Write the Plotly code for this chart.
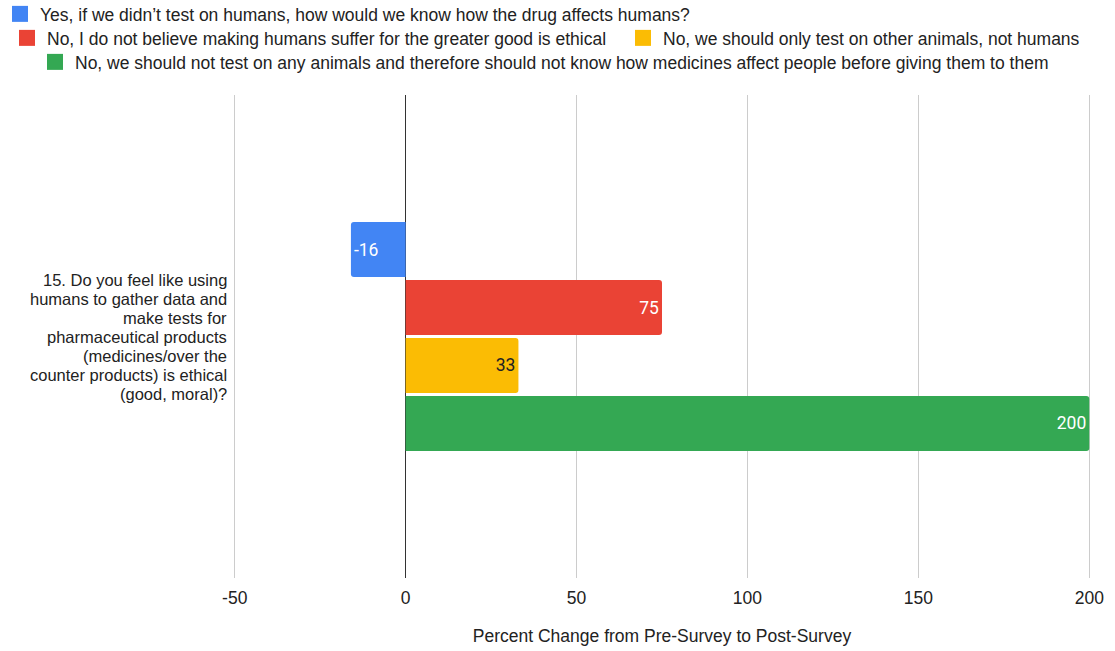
import plotly.graph_objects as go

# Survey question (single category) and the four answer options
question_lines = [
    "15. Do you feel like using",
    "humans to gather data and",
    "make tests for",
    "pharmaceutical products",
    "(medicines/over the",
    "counter products) is ethical",
    "(good, moral)?",
]
category = [" ".join(question_lines)]
answers = [
    "Yes, if we didn’t test on humans, how would we know how the drug affects humans?",
    "No, I do not believe making humans suffer for the greater good is ethical",
    "No, we should only test on other animals, not humans",
    "No, we should not test on any animals and therefore should not know how medicines affect people before giving them to them",
]
pct_change = [-16, 75, 33, 200]
colors = ["#4285F4", "#EA4335", "#FBBC04", "#34A853"]
label_colors = ["#ffffff", "#ffffff", "#202124", "#ffffff"]
x_ticks = [-50, 0, 50, 100, 150, 200]

W, H = 1115, 651
M_L, M_R, M_T, M_B = 233, 24, 95, 73
plot_w = W - M_L - M_R
plot_h = H - M_T - M_B
FONT = "Liberation Sans"
TXT = "#222222"


def px_x(px):
    return (px - M_L) / plot_w


def px_y(py):
    return (H - M_B - py) / plot_h


# one legend per entry so each row can be placed on its own
legend_pos = [(0, 14), (7, 38), (623, 38), (35, 62)]
legend_ids = ["legend", "legend2", "legend3", "legend4"]

fig = go.Figure()
for i, (name, val) in enumerate(zip(answers, pct_change)):
    fig.add_trace(go.Bar(
        y=category,
        x=[val],
        name=name,
        orientation="h",
        marker=dict(color=colors[i], line=dict(width=0)),
        text=[str(val)],
        textposition="inside",
        insidetextanchor="end",
        textangle=0,
        constraintext="none",
        textfont=dict(family="Roboto", size=17.5, color=label_colors[i]),
        legendgroup=f"g{i}",
        showlegend=False,
        hoverinfo="x+name",
    ))
    # legend swatch (larger square than the default bar swatch)
    fig.add_trace(go.Scatter(
        x=[None],
        y=[None],
        mode="markers",
        name=name,
        marker=dict(symbol="square", size=16, color=colors[i], line=dict(width=0)),
        legendgroup=f"g{i}",
        legend=legend_ids[i],
        hoverinfo="skip",
    ))

legend_style = dict(
    orientation="h",
    xanchor="left",
    yanchor="middle",
    font=dict(family=FONT, size=17.5, color=TXT),
    bgcolor="rgba(0,0,0,0)",
    borderwidth=0,
)
layout_legends = {}
for lid, (lx, ly) in zip(legend_ids, legend_pos):
    layout_legends[lid] = dict(legend_style, x=px_x(lx), y=px_y(ly))

# category label, drawn line by line, right-aligned next to the plot
line_step = 19
label_size = 16.5
n_lines = len(question_lines)
annotations = []
for k, line in enumerate(question_lines):
    annotations.append(dict(
        x=px_x(229),
        xref="paper",
        y=category[0],
        yref="y",
        yshift=((n_lines - 1) / 2 - k) * line_step,
        text=line,
        showarrow=False,
        xanchor="right",
        yanchor="middle",
        align="right",
        font=dict(family=FONT, size=label_size, color=TXT),
    ))

fig.update_layout(
    width=W,
    height=H,
    margin=dict(l=M_L, r=M_R, t=M_T, b=M_B, autoexpand=False),
    paper_bgcolor="white",
    plot_bgcolor="white",
    barmode="group",
    bargap=0.52,
    bargroupgap=0.05,
    barcornerradius=3,
    showlegend=True,
    font=dict(family=FONT, size=17.5, color=TXT),
    xaxis=dict(
        range=[-50.5, 200.5],
        tickvals=x_ticks,
        ticktext=[str(t) for t in x_ticks],
        showgrid=True,
        gridcolor="#cccccc",
        gridwidth=1,
        zeroline=True,
        zerolinecolor="#333333",
        zerolinewidth=1,
        showline=False,
        ticks="",
        ticklabelstandoff=7,
        tickfont=dict(family=FONT, size=17.5, color=TXT),
        title=dict(
            text="Percent Change from Pre-Survey to Post-Survey",
            font=dict(family=FONT, size=17.5, color=TXT),
            standoff=23,
        ),
        fixedrange=True,
    ),
    yaxis=dict(
        type="category",
        autorange="reversed",
        showgrid=False,
        zeroline=False,
        showline=False,
        ticks="",
        showticklabels=False,
        fixedrange=True,
    ),
    annotations=annotations,
    **layout_legends,
)

fig.write_html("out.html")
